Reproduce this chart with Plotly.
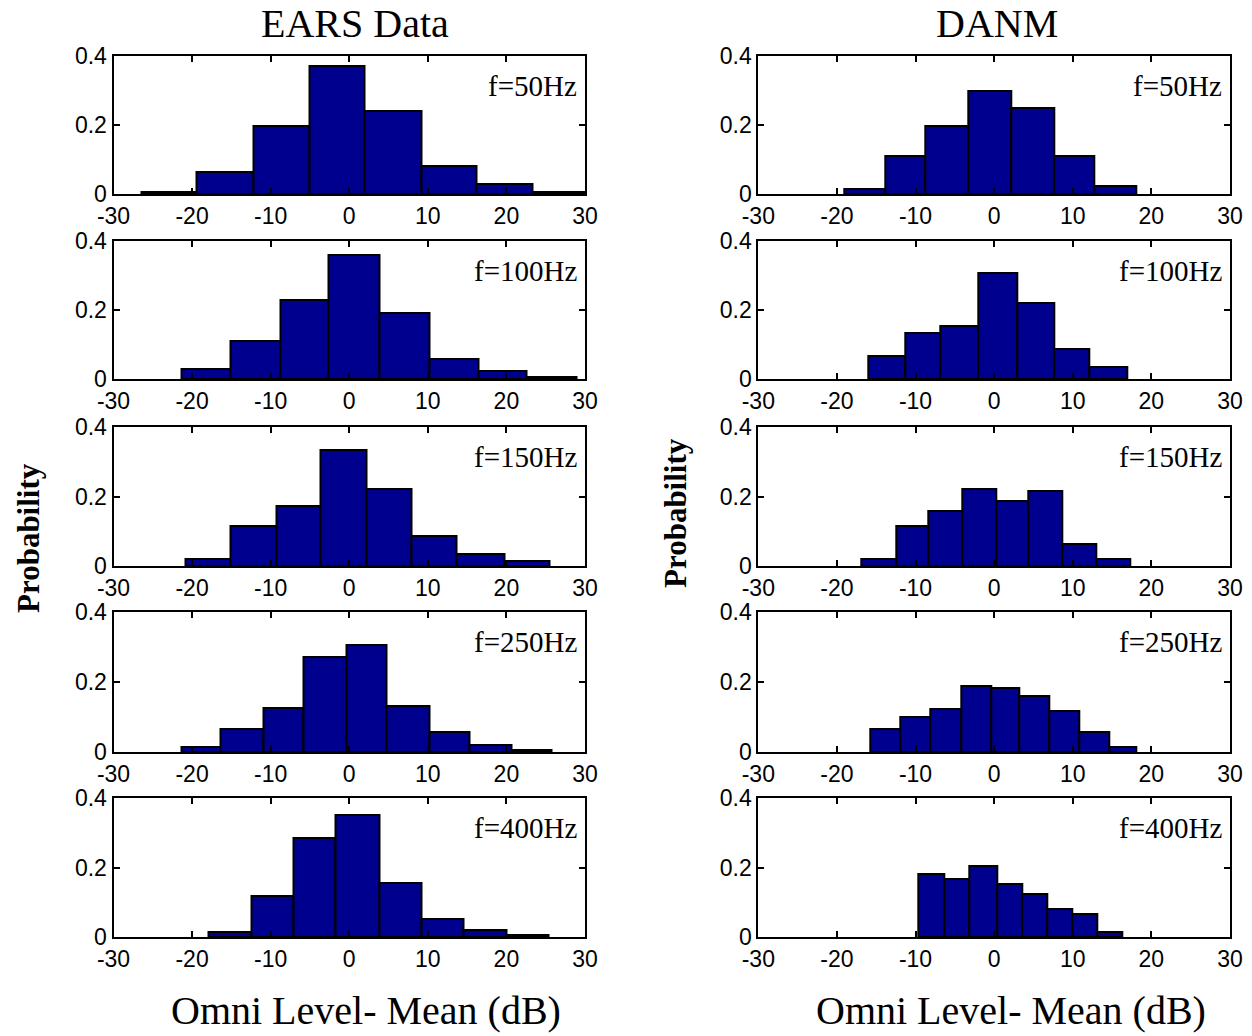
import plotly.graph_objects as go

# ---------------- data ----------------
freq_labels = ["f=50Hz", "f=100Hz", "f=150Hz", "f=250Hz", "f=400Hz"]
column_titles = ["EARS Data", "DANM"]

# EARS Data: bin edges (dB) and probabilities
ears_50_edges = [-26.5, -19.5, -12.2, -5.1, 2.0, 9.2, 16.2, 23.3, 30.4]
ears_50_prob = [0.007, 0.065, 0.198, 0.372, 0.242, 0.080, 0.028, 0.005]

ears_100_edges = [-21.4, -15.1, -8.7, -2.6, 3.8, 10.2, 16.5, 22.6, 28.9]
ears_100_prob = [0.028, 0.110, 0.229, 0.358, 0.191, 0.058, 0.024, 0.007]

ears_150_edges = [-20.8, -15.1, -9.3, -3.6, 2.2, 7.9, 13.7, 19.7, 25.5]
ears_150_prob = [0.021, 0.114, 0.172, 0.335, 0.221, 0.086, 0.035, 0.014]

ears_250_edges = [-21.4, -16.4, -10.9, -5.8, -0.4, 4.8, 10.2, 15.3, 20.7, 25.8]
ears_250_prob = [0.013, 0.065, 0.125, 0.272, 0.307, 0.131, 0.058, 0.021, 0.006]

ears_400_edges = [-17.9, -12.5, -7.1, -1.7, 3.8, 9.2, 14.6, 20.0, 25.4]
ears_400_prob = [0.013, 0.117, 0.285, 0.350, 0.154, 0.051, 0.021, 0.007]

# DANM: bin edges (dB) and probabilities
danm_50_edges = [-19.1, -13.8, -8.7, -3.3, 2.2, 7.6, 12.7, 18.1]
danm_50_prob = [0.015, 0.110, 0.198, 0.300, 0.249, 0.110, 0.022]

danm_100_edges = [-16.0, -11.3, -6.8, -2.0, 2.9, 7.6, 12.1, 16.9]
danm_100_prob = [0.066, 0.132, 0.154, 0.307, 0.220, 0.088, 0.035]

danm_150_edges = [-16.9, -12.5, -8.4, -4.1, 0.3, 4.3, 8.7, 13.0, 17.3]
danm_150_prob = [0.021, 0.115, 0.158, 0.222, 0.187, 0.215, 0.064, 0.021]

danm_250_edges = [-15.7, -11.9, -8.1, -4.2, -0.3, 3.2, 7.0, 10.8, 14.6, 18.1]
danm_250_prob = [0.065, 0.101, 0.123, 0.190, 0.182, 0.159, 0.116, 0.057, 0.013]

danm_400_edges = [-9.6, -6.35, -3.2, 0.4, 3.6, 6.8, 10.0, 13.1, 16.3]
danm_400_prob = [0.181, 0.167, 0.203, 0.153, 0.124, 0.080, 0.065, 0.014]

x_ticks = [-30, -20, -10, 0, 10, 20, 30]
y_ticks = [0, 0.2, 0.4]
x_range = [-30, 30]
y_range = [0, 0.4]

x_title = "Omni Level- Mean (dB)"
y_title = "Probability"

panels = [
    [(ears_50_edges, ears_50_prob), (danm_50_edges, danm_50_prob)],
    [(ears_100_edges, ears_100_prob), (danm_100_edges, danm_100_prob)],
    [(ears_150_edges, ears_150_prob), (danm_150_edges, danm_150_prob)],
    [(ears_250_edges, ears_250_prob), (danm_250_edges, danm_250_prob)],
    [(ears_400_edges, ears_400_prob), (danm_400_edges, danm_400_prob)],
]

# ---------------- layout geometry ----------------
W, H = 1252, 1036
col_px = [(113.5, 585.0), (758.3, 1230.0)]
row_px = [(56, 194), (241, 379), (427, 566), (612, 752), (798, 937)]
title_x_px = [355, 997]
xtitle_x_px = [366, 1011]

SERIF = "Times New Roman, Liberation Serif, serif"
SANS = "Arial, Liberation Sans, Helvetica, sans-serif"
BAR_COLOR = "#00008F"

fig = go.Figure()
layout = dict(
    width=W, height=H,
    margin=dict(l=0, r=0, t=0, b=0, pad=0),
    paper_bgcolor="white", plot_bgcolor="white",
    showlegend=False,
    bargap=0,
)
annotations = []

idx = 0
for r, row in enumerate(panels):
    for c, (edges, prob) in enumerate(row):
        idx += 1
        sx = "" if idx == 1 else str(idx)
        centers = [(edges[i] + edges[i + 1]) / 2 for i in range(len(prob))]
        widths = [edges[i + 1] - edges[i] for i in range(len(prob))]
        fig.add_trace(go.Bar(
            x=centers, y=prob, width=widths,
            marker=dict(color=BAR_COLOR, line=dict(color="black", width=2)),
            xaxis="x" + sx, yaxis="y" + sx, hoverinfo="x+y",
        ))
        x0, x1 = col_px[c]
        y0, y1 = row_px[r]
        axis_common = dict(
            showline=True, linecolor="black", linewidth=2, mirror="ticks",
            ticks="inside", ticklen=6, tickwidth=1.5, tickcolor="black",
            showgrid=False, zeroline=False, automargin=False,
            tickfont=dict(family=SANS, size=23, color="black"),
            fixedrange=True,
        )
        layout["xaxis" + sx] = dict(
            axis_common, domain=[x0 / W, x1 / W], range=x_range,
            tickvals=x_ticks, ticktext=[str(t) for t in x_ticks],
            anchor="y" + sx,
        )
        layout["yaxis" + sx] = dict(
            axis_common, domain=[1 - y1 / H, 1 - y0 / H], range=y_range,
            tickvals=y_ticks, ticktext=["0", "0.2", "0.4"],
            anchor="x" + sx,
        )
        annotations.append(dict(
            text=freq_labels[r], xref="paper", yref="paper",
            x=(x1 - 6) / W, y=1 - (y0 + 30) / H, xanchor="right", yanchor="middle",
            showarrow=False, font=dict(family=SERIF, size=29, color="black"),
        ))

# column titles and x titles
for c, t in enumerate(column_titles):
    annotations.append(dict(
        text=t, xref="paper", yref="paper",
        x=title_x_px[c] / W, y=1 - 23 / H,
        xanchor="center", yanchor="middle", showarrow=False,
        font=dict(family=SERIF, size=40, color="black"),
    ))
    annotations.append(dict(
        text=x_title, xref="paper", yref="paper",
        x=xtitle_x_px[c] / W, y=1 - 1010 / H,
        xanchor="center", yanchor="middle", showarrow=False,
        font=dict(family=SERIF, size=40, color="black"),
    ))

# y titles
for xp, yp in [(28, 538), (675, 513)]:
    annotations.append(dict(
        text="<b>" + y_title + "</b>", xref="paper", yref="paper",
        x=xp / W, y=1 - yp / H, xanchor="center", yanchor="middle",
        textangle=-90, showarrow=False,
        font=dict(family=SERIF, size=31, color="black"),
    ))

layout["annotations"] = annotations
fig.update_layout(**layout)
fig.write_html("out.html")
